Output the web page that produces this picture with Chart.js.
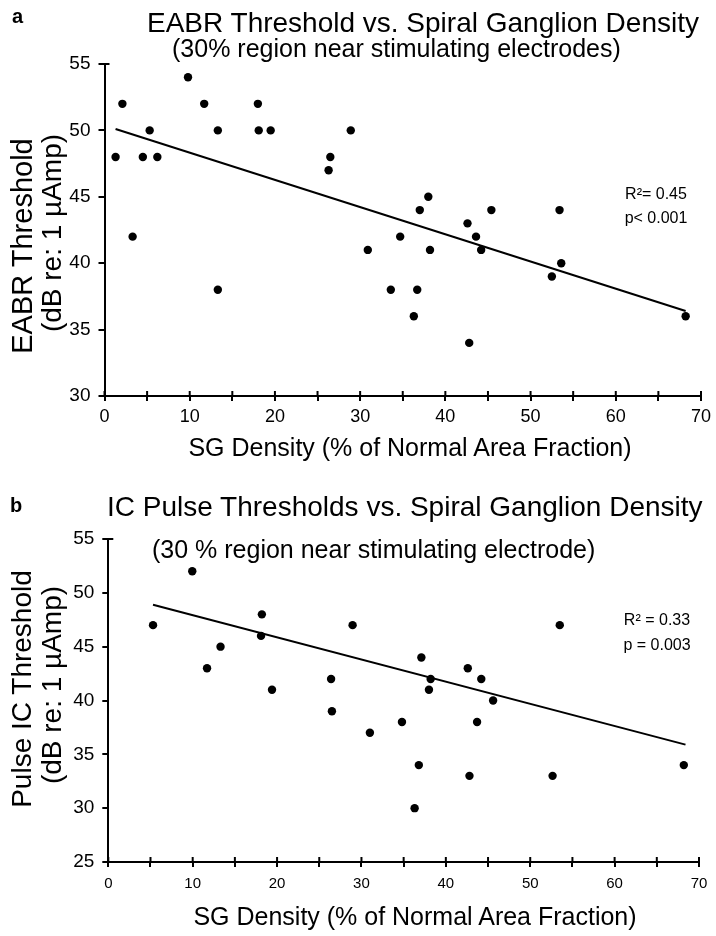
<!DOCTYPE html>
<html><head><meta charset="utf-8">
<script src="https://cdn.jsdelivr.net/npm/chart.js@4.4.1/dist/chart.umd.min.js"></script>
<style>
html,body{margin:0;padding:0;background:#fff;}
#wrap{position:relative;width:716px;height:936px;overflow:hidden;font-family:"Liberation Sans",Arial,sans-serif;color:#000;}
.t{position:absolute;white-space:nowrap;line-height:1;}
.r{transform:translate(-50%,-50%) rotate(-90deg);}
.c{transform:translateX(-50%);}
.cw{position:absolute;left:0;width:716px;}
canvas{display:block;}
</style></head><body>
<div id="wrap">
<div class="cw" style="top:0;height:470px;"><canvas id="c1" width="716" height="470"></canvas></div>
<div class="cw" style="top:470px;height:466px;"><canvas id="c2" width="716" height="466"></canvas></div>

<div class="t" style="left:12px;top:6px;font-size:20px;font-weight:bold;">a</div>
<div class="t" style="left:147px;top:9px;font-size:28px;">EABR Threshold vs. Spiral Ganglion Density</div>
<div class="t" style="left:172px;top:36px;font-size:25px;">(30% region near stimulating electrodes)</div>
<div class="t r" style="left:22px;top:246px;font-size:29px;">EABR Threshold</div>
<div class="t r" style="left:52px;top:233px;font-size:28px;">(dB re: 1 µAmp)</div>
<div class="t c" style="left:410px;top:435px;font-size:25px;">SG Density (% of Normal Area Fraction)</div>

<div class="t" style="left:10px;top:495px;font-size:20px;font-weight:bold;">b</div>
<div class="t" style="left:107px;top:493px;font-size:28px;">IC Pulse Thresholds vs. Spiral Ganglion Density</div>
<div class="t" style="left:152px;top:537px;font-size:25px;">(30 % region near stimulating electrode)</div>
<div class="t r" style="left:22px;top:689px;font-size:28px;">Pulse IC Threshold</div>
<div class="t r" style="left:52px;top:685px;font-size:28px;">(dB re: 1 µAmp)</div>
<div class="t c" style="left:415px;top:904px;font-size:25px;">SG Density (% of Normal Area Fraction)</div>
</div>
<script>
// ---- Data ----
const eabrX = [1.3,2.1,3.3,4.5,5.3,6.2,9.8,11.7,13.3,13.3,18.0,18.1,19.5,26.5,26.3,28.9,30.9,34.7,33.6,36.7,36.3,38.0,37.0,38.2,42.6,43.6,44.2,45.4,42.8,53.4,53.6,52.5,68.2];
const eabrY = [48,52,42,48,50,48,54,52,50,38,52,50,50,48,47,50,41,42,38,38,36,45,44,41,43,42,41,44,34,44,40,39,36];
const eabrFitX = [1.3, 68.2];
const eabrFitY = [50.1, 36.4];
const eabrNotes = ["R\u00B2= 0.45", "p< 0.001"];

const icX = [5.3,9.95,11.7,13.3,18.2,18.1,19.4,26.4,26.5,28.95,31.0,34.8,37.1,38.2,38.0,36.8,36.3,42.6,44.2,45.6,43.7,42.8,52.65,53.5,68.2];
const icY = [47,52,43,45,48,46,41,42,39,47,37,38,44,42,41,34,30,43,42,40,38,33,33,47,34];
const icFitX = [5.3, 68.4];
const icFitY = [48.9, 35.9];
const icNotes = ["R\u00B2 = 0.33", "p = 0.003"];

const xTicks = [0,10,20,30,40,50,60,70];

const NARROW = '"Liberation Sans Narrow","Arial Narrow","Liberation Sans",Arial,sans-serif';
const REG = '"Liberation Sans",Arial,sans-serif';

const extras = {
  id: 'extras',
  afterDraw(chart, args, opts) {
    const {ctx} = chart;
    const x = chart.scales.x, y = chart.scales.y;
    ctx.save();
    ctx.strokeStyle = '#000';
    ctx.lineWidth = 2;
    x.ticks.forEach(t => {
      const px = x.getPixelForValue(t.value);
      ctx.beginPath(); ctx.moveTo(px, y.bottom); ctx.lineTo(px, y.bottom - opts.up); ctx.stroke();
    });
    const py = y.getPixelForValue(y.max);
    ctx.beginPath(); ctx.moveTo(x.left, py); ctx.lineTo(x.left + opts.cap, py); ctx.stroke();
    ctx.fillStyle = '#000';
    ctx.font = opts.font;
    ctx.textAlign = 'center';
    ctx.textBaseline = 'middle';
    opts.notes.forEach((txt, i) => ctx.fillText(txt, opts.nx, opts.ny[i]));
    ctx.restore();
  }
};

function makeChart(id, xs, ys, fx, fy, cfg) {
  return new Chart(document.getElementById(id), {
    type: 'scatter',
    data: {
      datasets: [
        { data: xs.map((v, i) => ({x: v, y: ys[i]})), pointRadius: 4.2, pointBackgroundColor: '#000', pointBorderWidth: 0, showLine: false },
        { data: fx.map((v, i) => ({x: v, y: fy[i]})), showLine: true, borderColor: '#000', borderWidth: 2, pointRadius: 0, fill: false }
      ]
    },
    options: {
      responsive: false, animation: false, events: [],
      layout: { padding: cfg.pad },
      plugins: { legend: {display: false}, tooltip: {enabled: false}, title: {display: false},
        extras: { up: 5, cap: 5, font: '16px ' + REG, notes: cfg.notes, nx: cfg.nx, ny: cfg.ny } },
      scales: {
        x: {
          type: 'linear', min: 0, max: 70,
          ticks: { stepSize: 5, autoSkip: false, maxRotation: 0, color: '#000', padding: cfg.xpad,
            font: {family: NARROW, size: cfg.xfs}, callback: v => xTicks.includes(v) ? String(v) : '' },
          grid: { drawOnChartArea: false, tickLength: 5, color: '#000', lineWidth: 2 },
          border: { color: '#000', width: 2 },
          afterFit(s) { s.height = cfg.xh; }
        },
        y: {
          min: cfg.ymin, max: 55,
          ticks: { stepSize: 5, color: '#000', padding: 8, font: {family: NARROW, size: 19} },
          grid: { drawOnChartArea: false, tickLength: 6, color: '#000', lineWidth: 2 },
          border: { color: '#000', width: 2 },
          afterFit(s) { s.width = cfg.yw; }
        }
      }
    },
    plugins: [extras]
  });
}

makeChart('c1', eabrX, eabrY, eabrFitX, eabrFitY, {
  pad: {top: 64, right: 11.5, left: 0, bottom: 0}, xh: 74, yw: 104.5, ymin: 30, xfs: 18, xpad: 5,
  notes: eabrNotes, nx: 656, ny: [195, 219]
});
makeChart('c2', icX, icY, icFitX, icFitY, {
  pad: {top: 69, right: 17, left: 0, bottom: 0}, xh: 74, yw: 108.3, ymin: 25, xfs: 15, xpad: 8,
  notes: icNotes, nx: 657, ny: [151, 176]
});
</script>
</body></html>
